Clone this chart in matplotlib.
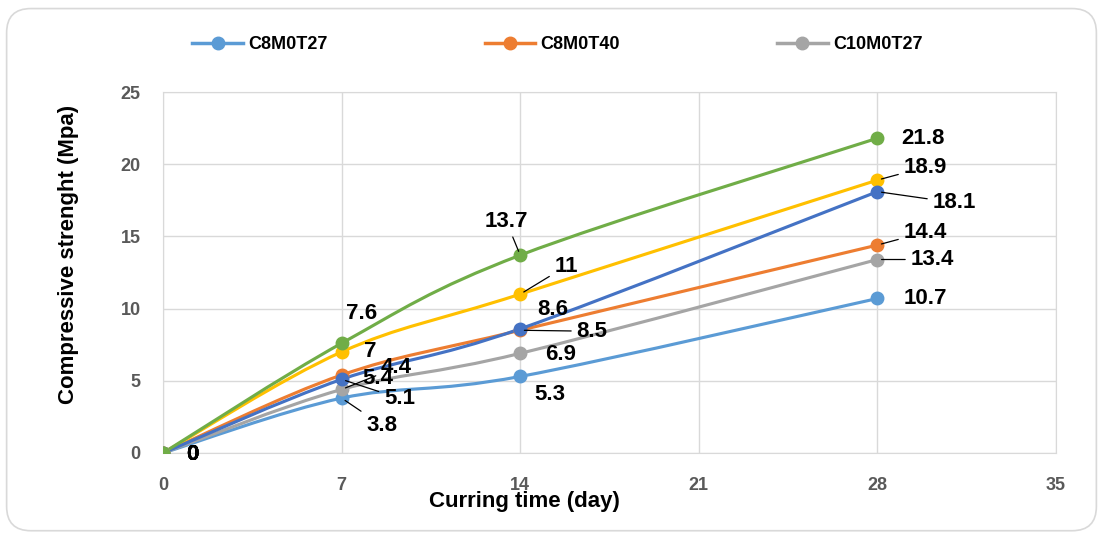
import numpy as np
import matplotlib
matplotlib.use("Agg")
import matplotlib.pyplot as plt
from matplotlib.path import Path
from matplotlib.patches import PathPatch, FancyBboxPatch
from matplotlib.lines import Line2D

plt.rcParams["font.family"] = ["Liberation Sans", "DejaVu Sans"]
plt.rcParams["font.weight"] = "bold"

DAYS = [0, 7, 14, 28]
C8M0T27 = [0, 3.8, 5.3, 10.7]
C8M0T40 = [0, 5.4, 8.5, 14.4]
C10M0T27 = [0, 4.4, 6.9, 13.4]
# the three series below have no legend entry in the reference
SERIES_YELLOW = [0, 7, 11, 18.9]
SERIES_BLUE = [0, 5.1, 8.6, 18.1]
SERIES_GREEN = [0, 7.6, 13.7, 21.8]

X_TICKS = [0, 7, 14, 21, 28, 35]
Y_TICKS = [0, 5, 10, 15, 20, 25]

# (values, colour, legend label, label offsets in pixels (dx, dy, leader))
SERIES = [
    (C8M0T27, "#5B9BD5", "C8M0T27",
     [(29, -2, False), (40, -27, True), (30, -18, False), (48, 0, False)]),
    (C8M0T40, "#ED7D31", "C8M0T40",
     [(29, -2, False), (36, -3, False), (72, -1, True), (48, 13, True)]),
    (C10M0T27, "#A5A5A5", "C10M0T27",
     [(29, -2, False), (55, 22, True), (40, -1, False), (55, 0, True)]),
    (SERIES_YELLOW, "#FFC000", None,
     [(29, -2, False), (29, 0, False), (46, 28, True), (48, 13, True)]),
    (SERIES_BLUE, "#4472C4", None,
     [(29, -2, False), (58, -19, True), (33, 19, False), (77, -11, True)]),
    (SERIES_GREEN, "#70AD47", None,
     [(29, -2, False), (20, 30, False), (-14, 34, True), (46, 0, False)]),
]


def smooth_path(xs, ys):
    pts = np.column_stack([xs, ys]).astype(float)
    n = len(pts)
    verts = [pts[0]]
    codes = [Path.MOVETO]
    for i in range(n - 1):
        p0 = pts[max(i - 1, 0)]
        p1 = pts[i]
        p2 = pts[i + 1]
        p3 = pts[min(i + 2, n - 1)]
        verts += [p1 + (p2 - p0) / 6, p2 - (p3 - p1) / 6, p2]
        codes += [Path.CURVE4] * 3
    return Path(verts, codes)


fig = plt.figure(figsize=(11.03, 5.35), dpi=100)
fig.patches.append(FancyBboxPatch(
    (0.006, 0.008), 0.988, 0.976, boxstyle="round,pad=0,rounding_size=0.022",
    transform=fig.transFigure, facecolor="none", edgecolor="#D9D9D9", lw=1.2,
    mutation_aspect=1103 / 535, zorder=-1))
ax = fig.add_axes([0.1478, 0.1533, 0.8096, 0.6747])
ax.set_facecolor("none")

handles = []
for vals, color, label, offsets in SERIES:
    ax.add_patch(PathPatch(smooth_path(DAYS, vals), facecolor="none",
                           edgecolor=color, lw=2.25, zorder=3))
    ax.plot(DAYS, vals, linestyle="none", marker="o", ms=9, color=color, zorder=4)
    for x, y, (dx, dy, leader) in zip(DAYS, vals, offsets):
        txt = "{:g}".format(y)
        arrow = dict(arrowstyle="-", color="black", lw=0.9, shrinkA=2, shrinkB=3) if leader else None
        ax.annotate(txt, xy=(x, y), xytext=(dx, dy), textcoords="offset pixels",
                    ha="center", va="center", fontsize=16, fontweight="bold",
                    color="black", arrowprops=arrow, zorder=5)
    if label:
        handles.append(Line2D([], [], color=color, lw=2.5, marker="o", ms=9, label=label))

ax.set_xlim(0, 35)
ax.set_ylim(0, 25)
ax.set_xticks(X_TICKS, [str(v) for v in X_TICKS], fontweight="bold", fontsize=13)
ax.set_yticks(Y_TICKS, [str(v) for v in Y_TICKS], fontweight="bold", fontsize=13)
ax.grid(True, color="#D9D9D9", lw=1)
ax.set_axisbelow(True)
for s in ax.spines.values():
    s.set_color("#D9D9D9")
ax.tick_params(axis="x", length=0, labelcolor="#595959", pad=17)
ax.tick_params(axis="y", length=0, labelcolor="#595959", pad=16)

ax.set_xlabel("Curring time (day)", fontsize=16, fontweight="bold")
ax.set_ylabel("Compressive strenght (Mpa)", fontsize=16, fontweight="bold")
ax.xaxis.set_label_coords(0.405, -0.105)
ax.yaxis.set_label_coords(-0.094, 0.55)

fig.legend(handles=handles, loc="center", bbox_to_anchor=(0.5054, 0.916), ncol=3,
           frameon=False, handlelength=2.8, handletextpad=0.3,
           columnspacing=8.7, prop={"weight": "bold", "size": 13})

fig.savefig("out.png", dpi=100)
